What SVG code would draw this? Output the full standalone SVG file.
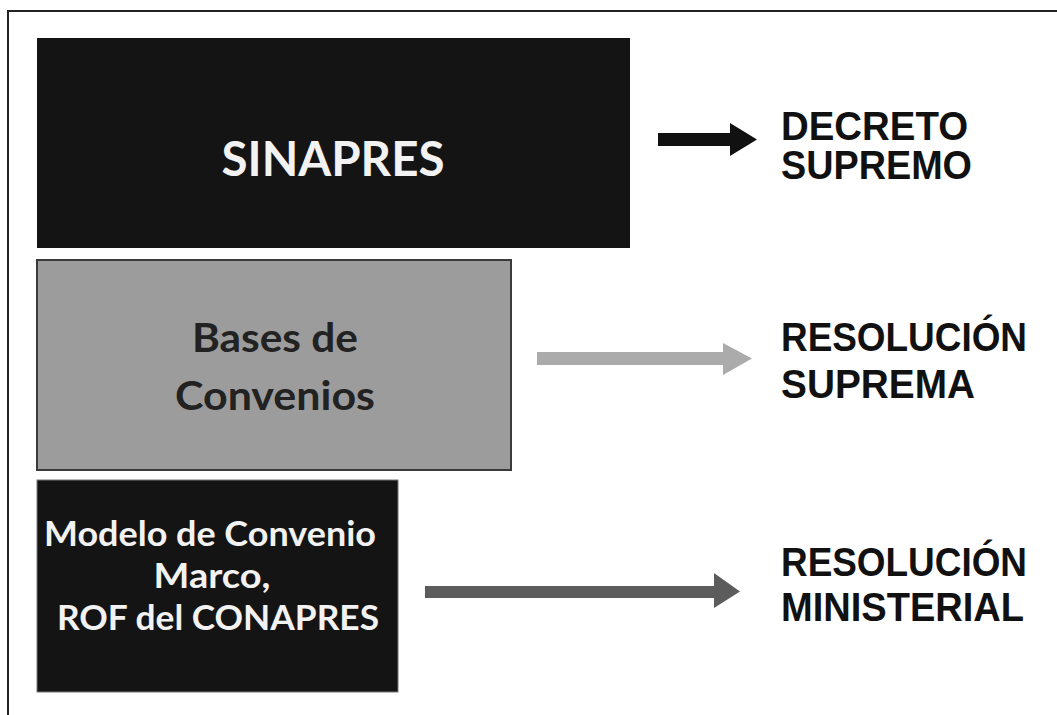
<svg xmlns="http://www.w3.org/2000/svg" width="1057" height="715" viewBox="0 0 1057 715">
<style>
.frame{stroke:#222;stroke-width:2;fill:none}
.box-dark{fill:#141414}
.box-gray{fill:#9c9c9c;stroke:#3a3a3a;stroke-width:2}
.t-white{fill:#f2f2f2;font-family:Lato,"Open Sans",sans-serif;text-anchor:middle}
.t-dark{fill:#222;font-family:Lato,"Open Sans",sans-serif;font-weight:bold;text-anchor:middle}
.lbl{fill:#111;font-family:"Liberation Sans",Arial,sans-serif;font-weight:bold;font-size:40px}
</style>
<rect width="1057" height="715" fill="#fff"/>
<path class="frame" d="M8 715 V11 H1057"/>
<g id="connectors">
<path id="a1" d="M658 133 H730 V123 L757 139.5 L730 156 V146 H658 Z" fill="#111"/>
<path id="a2" d="M537 352 H723 V343 L752 358.5 L723 375 V365 H537 Z" fill="#ababab"/>
<path id="a3" d="M425 586 H714 V573 L740 591.5 L714 608 V598 H425 Z" fill="#5c5c5c"/>
</g>
<g id="n-sinapres">
<rect class="box-dark" x="37" y="38" width="593" height="210"/>
<text class="t-white" font-weight="bold" x="333" y="176" font-size="48" textLength="223" lengthAdjust="spacingAndGlyphs">SINAPRES</text>
</g>
<g id="n-bases">
<rect class="box-gray" x="37" y="260" width="474" height="210"/>
<text class="t-dark" x="275" y="352" font-size="40" textLength="166" lengthAdjust="spacingAndGlyphs">Bases de</text>
<text class="t-dark" x="275" y="410" font-size="40" textLength="200" lengthAdjust="spacingAndGlyphs">Convenios</text>
</g>
<g id="n-modelo">
<rect class="box-dark" x="37" y="480" width="361" height="212" stroke="#777" stroke-width="1"/>
<text class="t-white" font-weight="bold" x="210" y="546" font-size="35" textLength="332" lengthAdjust="spacingAndGlyphs">Modelo de Convenio</text>
<text class="t-white" font-weight="bold" x="212" y="588" font-size="35" textLength="117" lengthAdjust="spacingAndGlyphs">Marco,</text>
<text class="t-white" font-weight="bold" x="218" y="630" font-size="35" textLength="322" lengthAdjust="spacingAndGlyphs">ROF del CONAPRES</text>
</g>
<g id="l-decreto">
<text class="lbl" x="781" y="140" textLength="187" lengthAdjust="spacingAndGlyphs">DECRETO</text>
<text class="lbl" x="781" y="179" textLength="191" lengthAdjust="spacingAndGlyphs">SUPREMO</text>
</g>
<g id="l-resol-sup">
<text class="lbl" x="781" y="351" textLength="246" lengthAdjust="spacingAndGlyphs">RESOLUCIÓN</text>
<text class="lbl" x="781" y="398" textLength="194" lengthAdjust="spacingAndGlyphs">SUPREMA</text>
</g>
<g id="l-resol-min">
<text class="lbl" x="781" y="576" textLength="246" lengthAdjust="spacingAndGlyphs">RESOLUCIÓN</text>
<text class="lbl" x="781" y="621" textLength="243" lengthAdjust="spacingAndGlyphs">MINISTERIAL</text>
</g>
</svg>
